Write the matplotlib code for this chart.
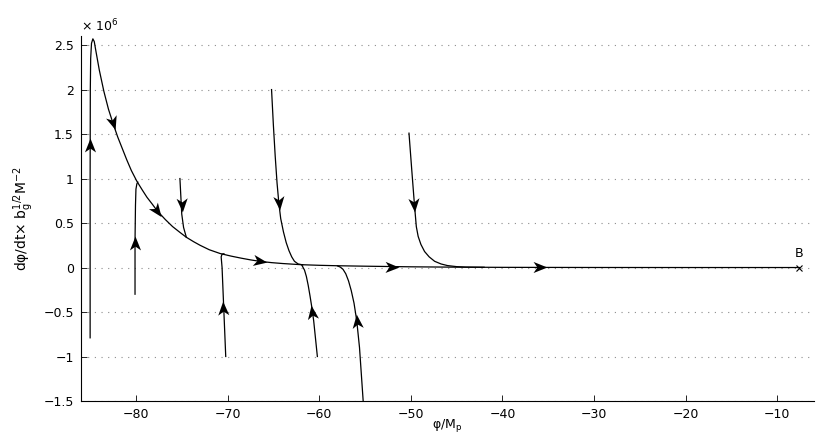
import matplotlib as mpl
mpl.use('Agg')
import matplotlib.pyplot as plt
import numpy as np
from matplotlib.path import Path
from matplotlib.markers import MarkerStyle
from matplotlib.transforms import Affine2D

plt.rc('font', family='DejaVu Sans', size=9)

# phase-space trajectories, y in units of 1e6
main_x = [-85.0, -85.0, -85.0, -84.98, -84.94, -84.85, -84.7, -84.55, -84.4, -84.0,
          -83.5, -83.0, -82.5, -82.0, -81.5, -81.0, -80.5, -79.9, -79.3, -78.8,
          -78.2, -77.7, -76.8, -76.0, -75.2, -74.5, -73.7, -73.0, -72.0, -70.8,
          -69.6, -68.5, -67.5, -66.5, -65.2, -64.0, -62.0, -60.0, -58.0, -55.0,
          -50.0, -45.0, -40.0, -30.0, -20.0, -7.6]
main_y = [-0.79, 0.0, 1.0, 2.0, 2.35, 2.52, 2.57, 2.54, 2.45, 2.22,
          1.98, 1.78, 1.62, 1.47, 1.34, 1.21, 1.09, 0.97, 0.87, 0.79,
          0.71, 0.64, 0.54, 0.46, 0.395, 0.34, 0.29, 0.25, 0.20, 0.157,
          0.128, 0.105, 0.086, 0.07, 0.055, 0.045, 0.032, 0.025, 0.02, 0.015,
          0.008, 0.004, 0.002, 0.0005, 0.0, 0.0]

c2_x = [-80.1, -80.1, -80.05, -80.0, -79.9, -79.8]
c2_y = [-0.30, 0.3, 0.7, 0.88, 0.94, 0.96]
c3_x = [-75.2, -75.1, -75.0, -74.8, -74.5]
c3_y = [1.0, 0.8, 0.6, 0.45, 0.34]
c4_x = [-70.2, -70.4, -70.6, -70.7, -70.6, -70.4]
c4_y = [-1.0, -0.5, 0.0, 0.12, 0.15, 0.155]
c5_x = [-65.2, -65.0, -64.8, -64.6, -64.4, -64.2, -63.9, -63.6, -63.3, -63.0,
        -62.7, -62.3, -61.8]
c5_y = [2.0, 1.6, 1.25, 0.95, 0.72, 0.55, 0.40, 0.28, 0.19, 0.12,
        0.07, 0.04, 0.03]
c6_x = [-60.2, -60.4, -60.6, -60.8, -61.0, -61.2, -61.4, -61.6, -61.9]
c6_y = [-1.0, -0.8, -0.6, -0.45, -0.32, -0.2, -0.1, -0.03, 0.028]
c7_x = [-55.2, -55.4, -55.6, -55.9, -56.2, -56.5, -56.8, -57.1, -57.4, -57.7, -58.0]
c7_y = [-1.5, -1.2, -0.9, -0.6, -0.4, -0.26, -0.15, -0.07, -0.02, 0.005, 0.018]
c8_x = [-50.2, -49.9, -49.6, -49.4, -49.2, -48.9, -48.5, -48.0, -47.4, -46.7,
        -46.0, -45.0, -44.0, -42.0]
c8_y = [1.51, 1.1, 0.70, 0.46, 0.35, 0.26, 0.18, 0.12, 0.07, 0.04,
        0.022, 0.01, 0.005, 0.003]

curves = [(main_x, main_y), (c2_x, c2_y), (c3_x, c3_y), (c4_x, c4_y),
          (c5_x, c5_y), (c6_x, c6_y), (c7_x, c7_y), (c8_x, c8_y)]

# arrowheads: (curve index, x, y)
arrows = [(0, -85.0, 1.38), (0, -82.5, 1.62), (0, -77.7, 0.64), (0, -66.5, 0.07),
          (0, -52.1, 0.01), (0, -35.9, 0.001), (1, -80.1, 0.28), (2, -75.0, 0.70),
          (3, -70.5, -0.45), (4, -64.4, 0.72), (5, -60.8, -0.5), (6, -55.9, -0.6),
          (7, -49.6, 0.70)]

b_x, b_y = -7.6, 0.0

yticks = [-1.5, -1, -0.5, 0, 0.5, 1, 1.5, 2, 2.5]
xticks = [-80, -70, -60, -50, -40, -30, -20, -10]

fig = plt.figure(figsize=(8.17, 4.36), dpi=100)
ax = fig.add_axes([0.0991, 0.0803, 0.8972, 0.8367])
ax.set_xlim(-86, -6)
ax.set_ylim(-1.5, 2.6)

for xs, ys in curves:
    ax.plot(xs, ys, color='k', lw=0.9)

arrow_path = Path([(1, 0), (-1, 0.8), (-0.45, 0), (-1, -0.8), (1, 0)],
                  [Path.MOVETO, Path.LINETO, Path.LINETO, Path.LINETO, Path.CLOSEPOLY])


def add_arrow(ax, xs, ys, xa, ya):
    pts = ax.transData.transform(np.column_stack([xs, ys]))
    p = ax.transData.transform((xa, ya))
    best, ang = 1e9, 0
    for i in range(len(pts) - 1):
        a, b = pts[i], pts[i + 1]
        d = b - a
        L = np.dot(d, d)
        if L == 0:
            continue
        t = np.clip(np.dot(p - a, d) / L, 0, 1)
        dist = np.linalg.norm(a + t * d - p)
        if dist < best:
            best, ang = dist, np.degrees(np.arctan2(d[1], d[0]))
    m = MarkerStyle(arrow_path, transform=Affine2D().rotate_deg(ang))
    ax.plot(xa, ya, marker=m, ms=10, color='k', mew=0, ls='none')


for ci, xa, ya in arrows:
    add_arrow(ax, curves[ci][0], curves[ci][1], xa, ya)

ax.plot(b_x, b_y, marker='x', color='k', ms=4, mew=0.8)
ax.text(b_x, b_y + 0.09, 'B', ha='center', va='bottom', fontsize=9)

ax.set_yticks(yticks)
ax.set_yticklabels([('%g' % v).replace('-', '\u2212') for v in yticks])
ax.set_xticks(xticks)
ax.set_xticklabels([('%g' % v).replace('-', '\u2212') for v in xticks])
ax.tick_params(direction='in', length=4, width=0.6, pad=5)
ax.yaxis.grid(True, linestyle=(0, (1, 5)), color='0.55', lw=0.8)
ax.spines['top'].set_visible(False)
ax.spines['right'].set_visible(False)
ax.spines['left'].set_linewidth(0.8)
ax.spines['bottom'].set_linewidth(0.8)

ax.text(0.0, 1.005, '\u00d7 10$^{6}$', transform=ax.transAxes, ha='left', va='bottom', fontsize=9)
ax.set_xlabel('\u03c6/M$_\mathrm{p}$', fontsize=9)
ax.xaxis.set_label_coords(0.5, -0.045)
ax.set_ylabel('d\u03c6/dt\u00d7 b$_\mathrm{g}^{1/2}$M$^{-2}$', fontsize=10)
ax.yaxis.set_label_coords(-0.062, 0.5)

plt.savefig('out.png', dpi=100)
